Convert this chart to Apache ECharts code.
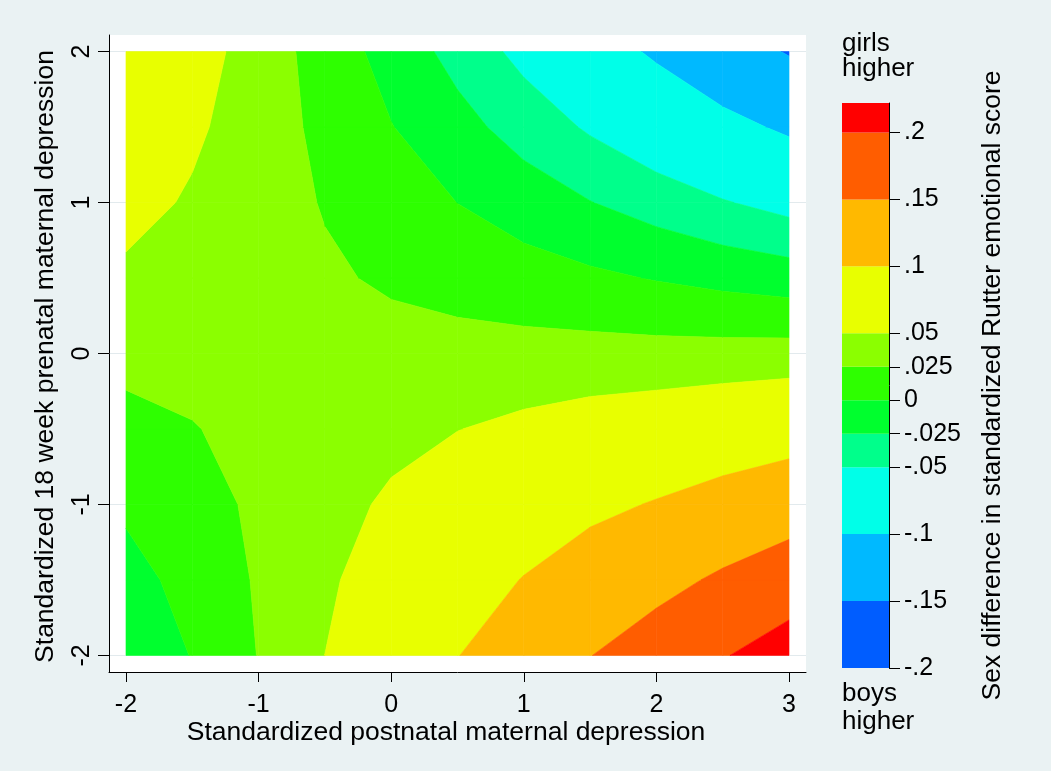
<!DOCTYPE html>
<html><head><meta charset="utf-8">
<script src="https://cdn.jsdelivr.net/npm/echarts@6/dist/echarts.min.js"></script>
<style>html,body{margin:0;padding:0;background:#eaf2f3}#c{width:1051px;height:771px}</style>
</head><body><div id="c"></div><script>
// ---- grid coordinates (x: postnatal, y: prenatal 18 week) ----
const xValues = [-2, -1.5, -1, -0.5, 0, 0.5, 1, 1.5, 2, 2.5, 3];
const yValues = [-2, -1.5, -1, -0.5, 0, 0.5, 1, 1.5, 2];
// ---- z (sex difference) along x, one array per y row ----
const zAtYm2   = [-0.0230, 0.0012, 0.0258, 0.0501, 0.0750, 0.0991, 0.1241, 0.1492, 0.1717, 0.1973, 0.2220];
const zAtYm1_5 = [-0.0094, 0.0088, 0.0274, 0.0456, 0.0644, 0.0826, 0.1014, 0.1203, 0.1371, 0.1564, 0.1752];
const zAtYm1   = [ 0.0043, 0.0164, 0.0289, 0.0412, 0.0538, 0.0660, 0.0786, 0.0913, 0.1025, 0.1155, 0.1283];
const zAtYm0_5 = [ 0.0180, 0.0241, 0.0305, 0.0368, 0.0432, 0.0495, 0.0559, 0.0624, 0.0678, 0.0746, 0.0815];
const zAtY0    = [ 0.0316, 0.0317, 0.0320, 0.0324, 0.0326, 0.0329, 0.0332, 0.0335, 0.0332, 0.0337, 0.0346];
const zAtY0_5  = [ 0.0453, 0.0393, 0.0336, 0.0280, 0.0220, 0.0164, 0.0105, 0.0046, -0.0014, -0.0072, -0.0123];
const zAtY1    = [ 0.0589, 0.0470, 0.0351, 0.0236, 0.0114, -0.0002, -0.0122, -0.0243, -0.0361, -0.0481, -0.0591];
const zAtY1_5  = [ 0.0726, 0.0546, 0.0367, 0.0192, 0.0008, -0.0168, -0.0350, -0.0533, -0.0707, -0.0890, -0.1060];
const zAtY2    = [ 0.0862, 0.0622, 0.0382, 0.0147, -0.0098, -0.0333, -0.0577, -0.0822, -0.1053, -0.1299, -0.1528];
// ---- contour levels / colour bar ----
const levels = [-0.2, -0.15, -0.1, -0.05, -0.025, 0, 0.025, 0.05, 0.1, 0.15, 0.2];
const zTop = 0.222;
const bandColors = ['#005dff', '#00b9ff', '#00ffe8', '#00ff8b', '#00ff2e', '#2eff00', '#8bff00', '#e8ff00', '#ffb900', '#ff5d00', '#ff0000'];
const xTicks = [-2, -1, 0, 1, 2, 3];
const yTicks = [-2, -1, 0, 1, 2];

const zRows = [zAtYm2, zAtYm1_5, zAtYm1, zAtYm0_5, zAtY0, zAtY0_5, zAtY1, zAtY1_5, zAtY2];
const FONT = '"Liberation Sans", Arial, sans-serif';
const xPad = 0.128, yPad = 0.11;

function clip(poly, level, keepAbove) {
  const out = [];
  for (let i = 0; i < poly.length; i++) {
    const a = poly[i], b = poly[(i + 1) % poly.length];
    const da = keepAbove ? a[2] - level : level - a[2];
    const db = keepAbove ? b[2] - level : level - b[2];
    if (da >= 0) out.push(a);
    if ((da >= 0) !== (db >= 0)) {
      const t = da / (da - db);
      out.push([a[0] + t * (b[0] - a[0]), a[1] + t * (b[1] - a[1]), a[2] + t * (b[2] - a[2])]);
    }
  }
  return out;
}

const cells = [];
for (let j = 0; j < yValues.length - 1; j++)
  for (let i = 0; i < xValues.length - 1; i++)
    cells.push([xValues[i], yValues[j], xValues[i + 1], yValues[j + 1], i, j]);

const barData = levels.map((lo, k) => [0, lo, 1, k < levels.length - 1 ? levels[k + 1] : zTop, k]);

function fmtLevel(v) {
  if (Math.abs(v) < 1e-9) return '0';
  return String(+(+v).toFixed(3)).replace(/^(-?)0\./, '$1.');
}

const chart = echarts.init(document.getElementById('c'));
chart.setOption({
  backgroundColor: '#eaf2f3',
  animation: false,
  textStyle: { fontFamily: FONT },
  grid: [
    { left: 109, top: 35, width: 697, height: 637, show: true, backgroundColor: '#ffffff', borderWidth: 0 },
    { left: 842, top: 103, width: 47, height: 565 }
  ],
  xAxis: [
    {
      gridIndex: 0, type: 'value', min: -2 - xPad, max: 3 + xPad,
      axisLine: { show: true, onZero: false, lineStyle: { color: '#000', width: 1 } },
      axisTick: { show: true, length: 10, lineStyle: { color: '#000' }, customValues: xTicks },
      axisLabel: { color: '#000', fontSize: 25, fontFamily: FONT, margin: 21, customValues: xTicks },
      splitLine: { show: false },
      name: 'Standardized postnatal maternal depression', nameLocation: 'middle', nameGap: 47, nameMoveOverlap: false,
      nameTextStyle: { color: '#000', fontSize: 26.5, fontFamily: FONT, padding: [0, 23, 0, 0] }
    },
    { gridIndex: 1, type: 'value', min: 0, max: 1, show: false }
  ],
  yAxis: [
    {
      gridIndex: 0, type: 'value', min: -2 - yPad, max: 2 + yPad,
      axisLine: { show: true, onZero: false, lineStyle: { color: '#000', width: 1 } },
      axisTick: { show: true, length: 11, lineStyle: { color: '#000' }, customValues: yTicks },
      axisLabel: { color: '#000', fontSize: 25, fontFamily: FONT, margin: 14, rotate: 90, customValues: yTicks },
      splitLine: { show: true, lineStyle: { color: '#e2eaed', width: 1 } },
      name: 'Standardized 18 week prenatal maternal depression', nameLocation: 'middle', nameGap: 50, nameRotate: 90,
      nameTextStyle: { color: '#000', fontSize: 26.5, fontFamily: FONT, padding: [0, 6, 0, 0] }
    },
    {
      gridIndex: 1, type: 'value', position: 'right', min: -0.2, max: zTop,
      axisLine: { show: true, onZero: false, lineStyle: { color: '#000', width: 1 } },
      axisTick: { show: true, length: 11, lineStyle: { color: '#000' }, customValues: levels },
      axisLabel: { color: '#000', fontSize: 25, fontFamily: FONT, margin: 15, customValues: levels, formatter: fmtLevel },
      splitLine: { show: false },
      name: 'Sex difference in standardized Rutter emotional score', nameLocation: 'middle', nameGap: 90, nameRotate: 90,
      nameTextStyle: { color: '#000', fontSize: 26.5, fontFamily: FONT }
    }
  ],
  graphic: [
    { type: 'text', left: 842, top: 31, style: { text: 'girls\nhigher', fill: '#000', font: '26px ' + FONT, lineHeight: 25 } },
    { type: 'text', left: 842, top: 680, style: { text: 'boys\nhigher', fill: '#000', font: '26px ' + FONT, lineHeight: 28 } }
  ],
  series: [
    {
      type: 'custom', xAxisIndex: 0, yAxisIndex: 0, clip: true,
      data: cells, encode: { x: [0, 2], y: [1, 3] },
      renderItem: function (params, api) {
        const i = api.value(4), j = api.value(5);
        const quad = [
          [xValues[i], yValues[j], zRows[j][i]],
          [xValues[i + 1], yValues[j], zRows[j][i + 1]],
          [xValues[i + 1], yValues[j + 1], zRows[j + 1][i + 1]],
          [xValues[i], yValues[j + 1], zRows[j + 1][i]]
        ];
        const children = [];
        for (let k = 0; k < levels.length; k++) {
          let p = quad;
          if (k > 0) p = clip(p, levels[k], true);
          if (p.length >= 3 && k < levels.length - 1) p = clip(p, levels[k + 1], false);
          if (p.length >= 3) {
            children.push({
              type: 'polygon',
              shape: { points: p.map(v => api.coord([v[0], v[1]])) },
              style: { fill: bandColors[k], stroke: bandColors[k], lineWidth: 0.6 }
            });
          }
        }
        return { type: 'group', children: children };
      }
    },
    {
      type: 'custom', xAxisIndex: 1, yAxisIndex: 1,
      data: barData, encode: { x: [0, 2], y: [1, 3] },
      renderItem: function (params, api) {
        const p1 = api.coord([api.value(0), api.value(3)]);
        const p2 = api.coord([api.value(2), api.value(1)]);
        return { type: 'rect', shape: { x: p1[0], y: p1[1], width: p2[0] - p1[0], height: p2[1] - p1[1] },
                 style: { fill: bandColors[api.value(4)] } };
      }
    }
  ]
});
</script></body></html>
